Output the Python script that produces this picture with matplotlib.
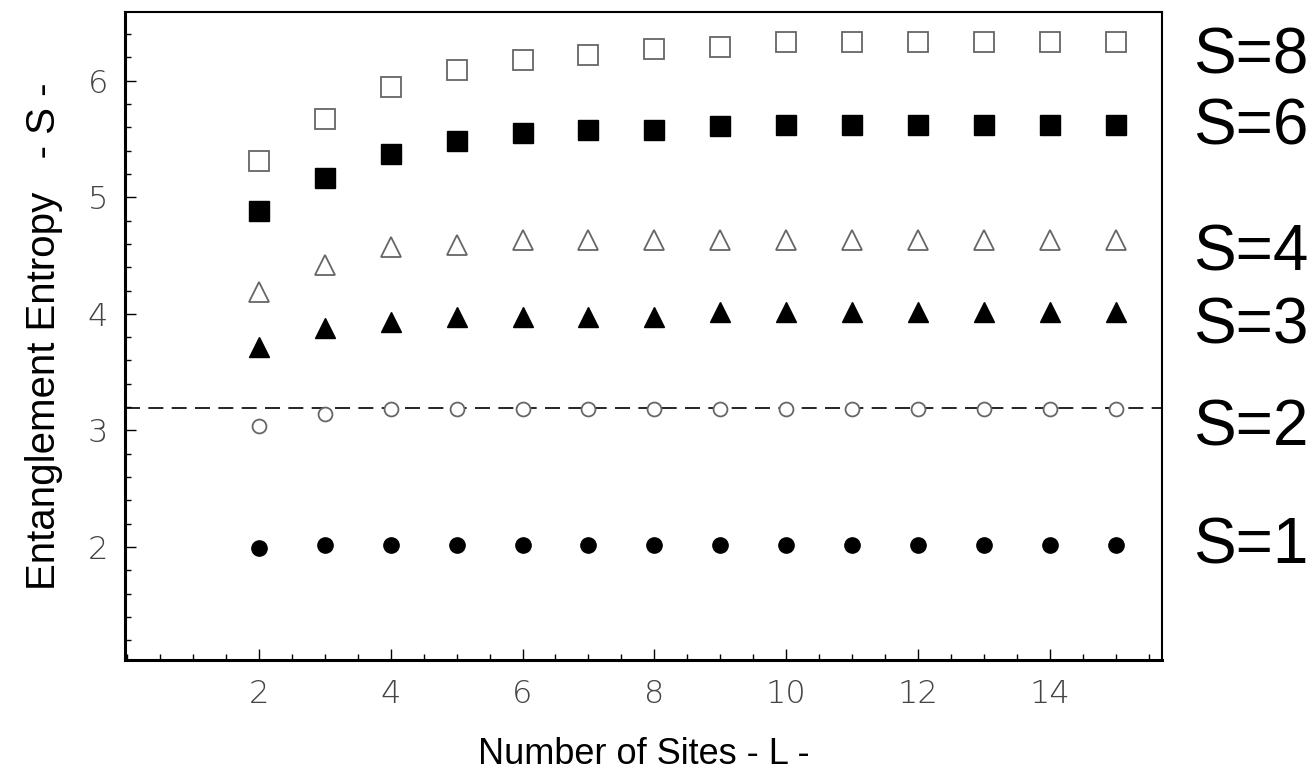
import matplotlib.pyplot as plt
import numpy as np
from matplotlib.ticker import MultipleLocator

# Data
L = np.arange(2, 16)
s1 = [1.99, 2.02, 2.02, 2.02, 2.02, 2.02, 2.02, 2.02, 2.02, 2.02, 2.02, 2.02, 2.02, 2.02]
s2 = [3.04, 3.14, 3.18, 3.18, 3.18, 3.18, 3.18, 3.18, 3.18, 3.18, 3.18, 3.18, 3.18, 3.18]
s3 = [3.72, 3.88, 3.93, 3.97, 3.97, 3.97, 3.97, 4.02, 4.02, 4.02, 4.02, 4.02, 4.02, 4.02]
s4 = [4.19, 4.42, 4.57, 4.59, 4.63, 4.63, 4.63, 4.63, 4.63, 4.63, 4.63, 4.63, 4.63, 4.63]
s6 = [4.88, 5.17, 5.37, 5.48, 5.55, 5.58, 5.58, 5.61, 5.62, 5.62, 5.62, 5.62, 5.62, 5.62]
s8 = [5.31, 5.67, 5.95, 6.09, 6.18, 6.22, 6.27, 6.29, 6.33, 6.33, 6.33, 6.33, 6.33, 6.33]
limit_s2 = 3.19

labels = ["S=8", "S=6", "S=4", "S=3", "S=2", "S=1"]
label_y = [6.21, 5.60, 4.52, 3.89, 3.02, 2.00]

fig = plt.figure(figsize=(13.11, 7.8), dpi=100)
ax = fig.add_axes([0.0953, 0.1538, 0.7911, 0.8308])

gray = "#666666"
ax.plot(L, s1, "o", ms=11, color="black", ls="none")
ax.plot(L, s2, "o", ms=10, mfc="white", mec=gray, mew=1.3, ls="none", zorder=3)
ax.plot(L, s3, "^", ms=15, color="black", ls="none")
ax.plot(L, s4, "^", ms=14, mfc="white", mec=gray, mew=1.3, ls="none")
ax.plot(L, s6, "s", ms=14, color="black", ls="none")
ax.plot(L, s8, "s", ms=14, mfc="white", mec=gray, mew=1.3, ls="none")
ax.axhline(limit_s2, color="black", lw=1.2, ls=(0, (9, 5)), zorder=2)

ax.set_xlim(-0.03, 15.7)
ax.set_ylim(1.03, 6.59)
ax.set_xticks([2, 4, 6, 8, 10, 12, 14])
ax.set_yticks([2, 3, 4, 5, 6])
ax.xaxis.set_minor_locator(MultipleLocator(0.5))
ax.yaxis.set_minor_locator(MultipleLocator(0.2))
ax.tick_params(which="both", direction="in", top=False, right=False,
               labelsize=23, labelcolor="#444444", width=1.0)
ax.tick_params(which="major", length=8)
ax.tick_params(which="minor", length=4)
ax.tick_params(axis="x", pad=14)
ax.tick_params(axis="y", pad=12)
for t in ax.get_xticklabels() + ax.get_yticklabels():
    t.set_fontweight("light")

for side in ["left", "bottom"]:
    ax.spines[side].set_linewidth(2.2)
for side in ["top", "right"]:
    ax.spines[side].set_linewidth(1.5)

ax.set_xlabel("Number of Sites - L -", fontsize=26, family="Liberation Sans", labelpad=20)
ax.set_ylabel("Entanglement Entropy   - S -", fontsize=29, family="Liberation Sans", labelpad=18)

trans = ax.get_yaxis_transform()
for lab, y in zip(labels, label_y):
    ax.text(1.03, y, lab, transform=trans, fontsize=46, family="Liberation Sans",
            va="center", ha="left", clip_on=False)

fig.savefig("out.png", dpi=100)
